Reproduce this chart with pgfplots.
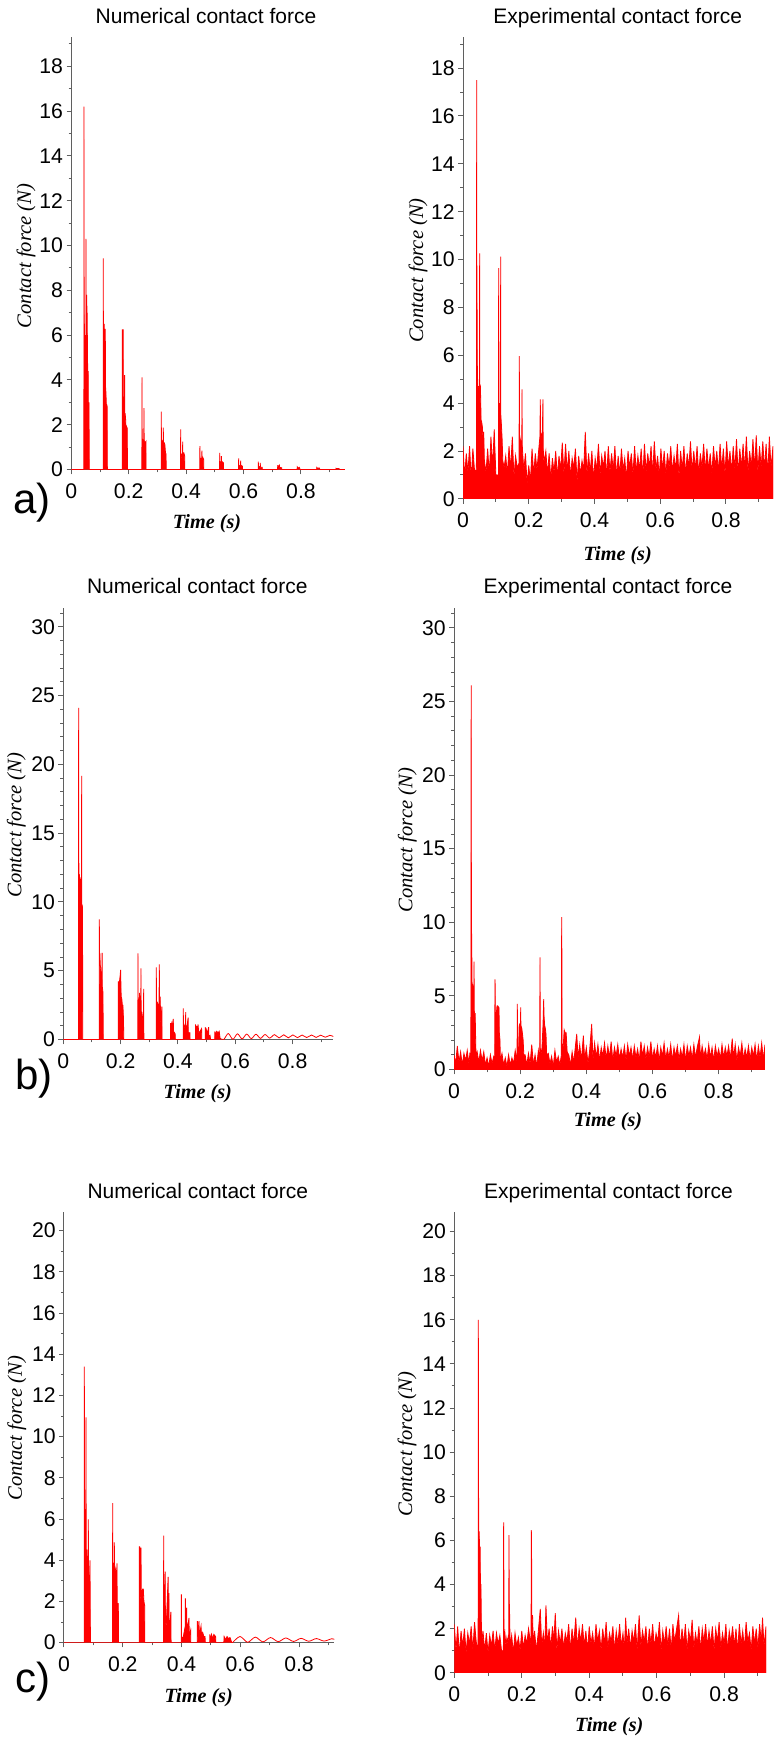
\documentclass[border=0pt]{standalone}
\usepackage{fontspec}
\setmainfont{Liberation Sans}
\newfontfamily\timesfont{Liberation Serif}
\usepackage{pgfplots}
\pgfplotsset{compat=1.18}
\definecolor{axgray}{RGB}{95,95,95}
\pgfplotsset{
 cf/.style={
  scale only axis, anchor=south west,
  axis lines*=left,
  axis line style={axgray, line width=0.5pt},
  tick style={axgray, line width=0.5pt},
  tick align=outside,
  major tick length=2.4pt, minor tick length=1.4pt,
  xmin=0, ymin=0,
  xtick={0,0.2,0.4,0.6,0.8},
  minor xtick={0.1,0.3,0.5,0.7,0.9},
  tick label style={font=\fontsize{10.6}{12}\selectfont, black, /pgf/number format/assume math mode=true},
  xticklabel style={yshift=-1.2pt, /pgf/number format/fixed, /pgf/number format/precision=1},
  yticklabel style={xshift=1.8pt, /pgf/number format/fixed},
 },
 spk/.style={red, line width=0.4pt, fill=red},
}
\newcommand{\ttl}{\fontsize{10.5}{12}\selectfont}
\newcommand{\ylab}{\fontsize{10.3}{12}\selectfont\timesfont\itshape Contact force (N)}
\newcommand{\xlab}{\fontsize{10.1}{12}\selectfont\timesfont\bfseries\itshape Time (s)}
\begin{document}
\begin{tikzpicture}
\useasboundingbox (0,0) rectangle (386.5pt,870pt);

% ---------------- a) numerical ----------------
\begin{axis}[cf, at={(35.65pt,635.2pt)}, width=136.8pt, height=216.05pt,
  xmax=0.953, ymax=19.29, ytick={0,2,...,18}, minor ytick={1,3,...,19}]
\addplot[spk] coordinates {
(0,0)
(0.0438,0)(0.0442,16.2)(0.0446,0.5)(0.0450,8.6)(0.0455,0.8)(0.0460,6.5)(0.0465,1.0)(0.0470,6.0)(0.0476,1.2)(0.0482,5.5)(0.0488,1.0)(0.0494,6.0)(0.0500,1.5)(0.0506,5.0)(0.0510,1.0)(0.0512,10.3)(0.0515,6.0)(0.0520,7.8)(0.0525,6.0)(0.0530,7.5)(0.0535,5.8)(0.0540,7.8)(0.0546,6.0)(0.0552,7.0)(0.0558,5.5)(0.0564,6.0)(0.0570,4.0)(0.0578,4.2)(0.0584,2.0)(0.0590,4.4)(0.0596,2.0)(0.0602,3.0)(0.0608,1.5)(0.0617,3.0)(0.0622,1.0)(0.0628,0)
(0.1110,0)(0.1115,9.43)(0.1120,1.0)(0.1130,5.0)(0.1140,1.5)(0.1150,6.5)(0.1160,2.0)(0.1170,5.0)(0.1180,3.0)(0.1185,6.28)(0.1190,3.7)(0.1200,3.6)(0.1210,3.3)(0.1220,2.9)(0.1235,2.9)(0.1250,2.8)(0.1256,0)
(0.1772,0)(0.1777,6.26)(0.1782,1.0)(0.1790,4.0)(0.1800,1.0)(0.1808,6.26)(0.1813,2.0)(0.1825,2.5)(0.1840,2.0)(0.1857,4.22)(0.1862,2.5)(0.1875,2.5)(0.1890,2.3)(0.1900,2.0)(0.1950,1.84)(0.1955,0)
(0.2458,0)(0.2463,4.12)(0.2468,0.5)(0.2480,1.35)(0.2500,1.3)(0.2527,1.3)(0.2532,2.74)(0.2537,1.3)(0.2560,1.25)(0.2580,1.2)(0.2600,1.25)(0.2605,0)
(0.3130,0)(0.3135,2.59)(0.3140,0.5)(0.3160,1.3)(0.3200,1.2)(0.3205,1.87)(0.3210,1.2)(0.3240,1.2)(0.3260,1.1)(0.3280,0.75)(0.3300,0.7)(0.3305,0)
(0.3805,0)(0.3810,1.8)(0.3815,0.4)(0.3850,0.7)(0.3875,0.7)(0.3880,1.25)(0.3885,0.7)(0.3920,0.75)(0.3950,0.6)(0.3955,0)
(0.4475,0)(0.4480,1.05)(0.4485,0.3)(0.4510,0.5)(0.4545,0.5)(0.4550,0.85)(0.4555,0.5)(0.4580,0.55)(0.4610,0.45)(0.4615,0)
(0.5165,0)(0.5170,0.75)(0.5175,0.2)(0.5200,0.35)(0.5222,0.35)(0.5227,0.6)(0.5232,0.35)(0.5260,0.35)(0.5297,0.3)(0.5302,0)
(0.5825,0)(0.5830,0.5)(0.5835,0.15)(0.5895,0.2)(0.5900,0.4)(0.5905,0.2)(0.5960,0.15)(0.5965,0)
(0.6510,0)(0.6514,0.35)(0.6520,0.1)(0.6578,0.15)(0.6583,0.3)(0.6588,0.1)(0.6650,0.1)(0.6655,0)
(0.7185,0)(0.7190,0.2)(0.7200,0.1)(0.7247,0.2)(0.7260,0.1)(0.7328,0.08)(0.7333,0)
(0.7865,0)(0.7870,0.12)(0.7900,0.06)(0.7940,0.1)(0.7960,0.05)(0.7965,0)
(0.8545,0)(0.8550,0.1)(0.8590,0.05)(0.8630,0.08)(0.8650,0.04)(0.8655,0)
(0.9215,0)(0.9220,0.06)(0.9260,0.04)(0.9300,0.05)(0.9340,0.03)(0.9345,0)
(0.953,0)
};
\end{axis}

% ---------------- a) experimental ----------------
\begin{axis}[cf, at={(231.5pt,620.55pt)}, width=155pt, height=230.7pt,
  xmax=0.943, ymax=19.28, ytick={0,2,...,18}, minor ytick={1,3,...,19}]
\addplot[spk] coordinates {
(0.000,2.2)(0.005,0.9)(0.010,1.9)(0.015,1.1)(0.020,2.2)(0.025,0.8)(0.030,2.1)(0.035,1.2)
(0.0405,1.2)(0.0412,2.0)(0.0416,17.5)(0.0419,14.0)(0.0422,8.2)(0.0428,8.2)(0.0434,6.0)(0.0440,4.9)(0.0446,5.0)(0.0452,4.7)(0.0470,4.7)(0.0500,4.5)(0.0507,10.26)(0.0512,4.8)(0.0530,4.7)(0.0550,3.3)(0.0570,3.2)(0.0590,3.0)(0.0610,2.4)(0.0630,2.8)(0.0650,1.6)
(0.070,1.1)(0.075,2.1)(0.080,1.0)(0.085,2.6)(0.090,1.3)(0.095,2.9)(0.100,1.0)
(0.1080,1.0)(0.1085,9.64)(0.1090,6.9)(0.1095,3.0)(0.1110,4.0)(0.1120,3.5)(0.1141,3.0)(0.1146,10.12)(0.1151,3.5)(0.1170,3.05)(0.1190,2.5)(0.1210,1.6)
(0.125,1.3)(0.130,1.8)(0.135,1.0)(0.140,2.2)(0.145,1.2)(0.150,2.6)(0.155,0.9)(0.160,1.8)(0.165,1.3)
(0.1705,1.5)(0.1713,5.97)(0.1718,2.7)(0.1740,2.5)(0.1760,2.4)(0.1790,2.4)(0.1795,4.58)(0.1800,2.3)(0.1820,1.8)
(0.185,1.2)(0.190,1.9)(0.195,0.6)(0.200,1.4)(0.205,0.7)(0.210,2.1)(0.215,1.0)(0.220,1.9)(0.225,1.2)(0.230,2.0)
(0.2340,2.6)(0.2352,4.16)(0.2357,2.6)(0.2380,2.7)(0.2410,2.5)(0.2433,4.16)(0.2438,2.2)(0.2460,1.5)
(0.252,2.0)(0.257,1.0)(0.262,1.9)(0.267,0.8)(0.272,1.7)(0.277,1.1)(0.282,2.0)(0.287,0.9)(0.292,1.8)(0.297,1.2)
(0.302,2.35)(0.307,1.0)(0.312,2.3)(0.317,1.1)(0.322,2.0)(0.327,0.9)(0.332,1.7)(0.337,1.3)(0.342,2.1)(0.347,0.7)
(0.352,1.8)(0.357,1.0)(0.362,1.6)(0.367,1.2)(0.372,2.8)(0.377,1.0)(0.382,1.9)(0.387,1.1)(0.392,2.0)(0.397,0.8)
(0.402,1.7)(0.407,1.2)(0.412,2.3)(0.417,1.0)(0.422,1.8)(0.427,1.3)(0.432,2.0)(0.437,0.9)(0.442,2.2)(0.447,1.1)
(0.452,1.9)(0.457,1.2)(0.462,2.2)(0.467,0.9)(0.472,1.8)(0.477,1.0)(0.482,2.1)(0.487,1.2)(0.492,1.7)(0.497,0.8)
(0.502,2.0)(0.507,1.3)(0.512,1.9)(0.517,1.0)(0.522,2.2)(0.527,1.1)(0.532,1.8)(0.537,1.2)(0.542,2.1)(0.547,0.9)
(0.552,2.3)(0.557,1.1)(0.562,1.9)(0.567,1.3)(0.572,2.2)(0.577,1.0)(0.582,2.4)(0.587,1.2)(0.592,1.8)(0.597,0.9)
(0.602,2.1)(0.607,1.2)(0.612,2.0)(0.617,1.0)(0.622,1.9)(0.627,1.3)(0.632,2.2)(0.637,1.1)(0.642,1.8)(0.647,1.2)
(0.652,2.3)(0.657,0.9)(0.662,2.0)(0.667,1.2)(0.672,2.2)(0.677,1.0)(0.682,1.9)(0.687,1.3)(0.692,2.4)(0.697,1.1)
(0.702,2.0)(0.707,1.2)(0.712,2.2)(0.717,1.0)(0.722,1.9)(0.727,1.3)(0.732,2.3)(0.737,1.1)(0.742,2.1)(0.747,1.2)
(0.752,1.9)(0.757,1.0)(0.762,2.2)(0.767,1.3)(0.772,2.0)(0.777,1.1)(0.782,2.3)(0.787,1.2)(0.792,2.1)(0.797,1.0)
(0.802,2.4)(0.807,1.3)(0.812,2.0)(0.817,1.1)(0.822,2.2)(0.827,1.2)(0.832,2.5)(0.837,1.0)(0.842,2.1)(0.847,1.3)
(0.852,2.3)(0.857,1.2)(0.862,2.6)(0.867,1.1)(0.872,2.0)(0.877,1.3)(0.882,2.5)(0.887,1.2)(0.892,2.65)(0.897,1.1)
(0.902,2.2)(0.907,1.3)(0.912,2.4)(0.917,1.2)(0.922,2.3)(0.927,1.0)(0.932,2.6)(0.937,1.3)(0.943,2.2)
} \closedcycle;
\end{axis}

% ---------------- b) numerical ----------------
\begin{axis}[cf, at={(31.65pt,350.2pt)}, width=135pt, height=215.7pt,
  xmax=0.942, ymax=31.35, ytick={0,5,...,30}, minor ytick={0,1,...,31}]
\addplot[spk] coordinates {
(0,0)
(0.0530,0)(0.0536,24.1)(0.0540,12.8)(0.0545,12.8)(0.0550,11.5)(0.0560,12.0)(0.0570,11.5)(0.0580,11.8)(0.0590,11.4)(0.0600,11.5)(0.0610,11.2)(0.0620,11.0)(0.0630,10.5)(0.0636,10.0)(0.0641,19.16)(0.0646,9.8)(0.0660,9.78)(0.0672,9.5)(0.0676,0)
(0.1252,0)(0.1257,8.74)(0.1262,5.4)(0.1275,6.27)(0.1290,5.4)(0.1305,5.2)(0.1320,4.5)(0.1350,5.0)(0.1355,6.3)(0.1360,3.85)(0.1380,3.5)(0.1390,1.7)(0.1395,0)
(0.1915,0)(0.1920,4.21)(0.1935,4.21)(0.1950,1.5)(0.1965,4.3)(0.1980,4.57)(0.2000,5.06)(0.2010,4.0)(0.2020,3.1)(0.2040,3.0)(0.2060,2.5)(0.2080,2.5)(0.2100,1.5)(0.2110,0)
(0.2600,0)(0.2606,6.27)(0.2612,1.0)(0.2630,1.5)(0.2660,3.4)(0.2680,1.5)(0.2704,1.8)(0.2710,5.18)(0.2716,2.0)(0.2740,2.0)(0.2770,1.5)(0.2798,1.0)(0.2804,3.68)(0.2810,0.5)(0.2815,0)
(0.3240,0)(0.3245,5.25)(0.3250,2.6)(0.3280,2.7)(0.3310,2.5)(0.3340,2.6)(0.3350,5.47)(0.3356,3.1)(0.3380,3.1)(0.3400,1.0)(0.3440,2.4)(0.3446,0)
(0.3740,0)(0.3745,1.2)(0.3760,0.6)(0.3780,1.1)(0.3800,0.8)(0.3815,1.2)(0.3837,1.5)(0.3845,0.6)(0.3880,0.5)(0.3905,0.4)(0.3910,0)
(0.4182,0)(0.4187,2.27)(0.4192,0.5)(0.4230,1.0)(0.4265,1.2)(0.4270,2.0)(0.4275,1.0)(0.4320,1.0)(0.4355,1.6)(0.4362,0.5)(0.4417,0.5)(0.4422,0)
(0.4610,0)(0.4615,1.1)(0.4625,0.3)(0.4650,1.0)(0.4680,0.5)(0.4700,1.1)(0.4730,0.4)(0.4770,0.6)(0.4825,0.8)(0.4830,0)
(0.4950,0)(0.4955,0.9)(0.4970,0.3)(0.5000,0.7)(0.5030,0.4)(0.5070,0.9)(0.5080,0.2)(0.5120,0.3)(0.5140,0)
(0.5280,0)(0.5290,0.6)(0.5310,0.3)(0.5350,0.6)(0.5400,0.5)(0.5440,0.6)(0.5470,0.1)(0.5470,0)
};
\addplot[red, line width=0.4pt, smooth] coordinates {
(0.5470,0.10)(0.5594,0.00)(0.5755,0.44)(0.5916,0.02)(0.6077,0.42)(0.6238,0.05)(0.6400,0.40)(0.6560,0.07)(0.6720,0.39)(0.6880,0.09)(0.7040,0.37)(0.7200,0.11)(0.7370,0.36)(0.7530,0.12)(0.7690,0.35)(0.7850,0.13)(0.8010,0.34)(0.8170,0.14)(0.8330,0.33)(0.8490,0.15)(0.8660,0.33)(0.8820,0.16)(0.8980,0.32)(0.9140,0.17)(0.9300,0.31)(0.9420,0.22)
};
\end{axis}

% ---------------- b) experimental ----------------
\begin{axis}[cf, at={(227pt,335.2pt)}, width=155.5pt, height=230.7pt,
  xmax=0.94, ymax=31.34, ytick={0,5,...,30}, minor ytick={0,1,...,31}]
\addplot[spk] coordinates {
(0.000,1.0)(0.005,0.4)(0.010,1.6)(0.015,0.5)(0.020,1.2)(0.025,0.3)(0.030,1.1)(0.035,0.6)(0.040,1.3)(0.045,0.4)(0.048,1.1)
(0.0510,1.0)(0.0515,19.5)(0.0520,26.1)(0.0526,9.3)(0.0535,9.2)(0.0545,5.6)(0.0555,5.8)(0.0570,5.6)(0.0590,5.5)(0.0600,5.2)(0.0605,7.33)(0.0612,4.0)(0.0625,3.8)(0.0640,3.8)(0.0655,2.0)(0.0665,0.9)
(0.070,1.2)(0.075,0.5)(0.080,1.3)(0.085,0.6)(0.090,1.2)(0.095,0.3)(0.100,0.8)(0.105,0.2)(0.110,1.0)(0.115,0.4)(0.120,0.9)
(0.1230,0.8)(0.1239,6.13)(0.1245,5.6)(0.1255,2.0)(0.1270,3.5)(0.1300,4.34)(0.1310,3.0)(0.1330,4.3)(0.1360,4.2)(0.1370,2.5)(0.1390,2.0)(0.1400,0.6)
(0.145,1.1)(0.150,0.3)(0.155,0.8)(0.160,0.2)(0.165,1.0)(0.170,0.3)(0.175,0.8)(0.180,0.4)(0.185,1.3)
(0.1905,0.5)(0.1914,4.46)(0.1920,1.0)(0.1950,1.2)(0.1970,3.0)(0.1990,3.1)(0.2010,3.0)(0.2016,4.23)(0.2022,3.0)(0.2050,2.8)(0.2070,2.4)(0.2090,2.0)(0.2110,1.0)
(0.215,1.0)(0.220,0.3)(0.225,1.1)(0.230,0.4)(0.235,1.7)(0.240,0.3)(0.245,1.0)(0.250,0.2)(0.255,1.3)
(0.2590,0.6)(0.2600,7.63)(0.2606,1.5)(0.2630,1.0)(0.2660,1.5)(0.2690,3.0)(0.2711,4.78)(0.2720,3.7)(0.2740,3.0)(0.2760,2.8)(0.2781,2.4)(0.2800,1.0)
(0.285,1.1)(0.290,0.4)(0.295,0.9)(0.300,0.2)(0.305,1.3)(0.310,0.5)(0.315,0.9)(0.320,0.3)
(0.3245,1.0)(0.3255,10.35)(0.3262,7.2)(0.3268,1.0)(0.3300,1.5)(0.3330,2.7)(0.3360,2.5)(0.3390,2.5)(0.3420,1.2)
(0.347,1.0)(0.352,0.3)(0.357,1.2)(0.362,0.5)(0.367,1.6)(0.371,2.42)(0.375,0.8)(0.380,1.7)(0.385,0.6)(0.391,2.3)(0.395,0.7)
(0.400,1.5)(0.405,0.4)(0.410,1.3)(0.4162,3.1)(0.420,0.6)(0.425,1.8)(0.430,0.8)(0.435,1.7)(0.440,0.6)(0.445,1.5)
(0.450,0.9)(0.455,1.8)(0.460,0.7)(0.465,1.6)(0.470,0.8)(0.475,1.9)(0.480,0.6)(0.485,1.5)(0.490,0.9)(0.495,1.7)
(0.500,0.7)(0.505,1.4)(0.510,0.8)(0.515,1.6)(0.520,0.6)(0.525,1.7)(0.530,0.9)(0.535,1.5)(0.540,0.7)(0.545,1.6)
(0.550,0.8)(0.555,1.4)(0.560,0.6)(0.565,1.9)(0.570,0.9)(0.575,1.6)(0.580,0.7)(0.585,1.5)(0.590,0.8)(0.595,1.9)
(0.600,0.7)(0.605,1.4)(0.610,0.8)(0.615,1.6)(0.620,0.6)(0.625,1.5)(0.630,0.9)(0.635,1.8)(0.640,0.7)(0.645,1.4)
(0.650,0.8)(0.655,1.7)(0.660,0.6)(0.665,1.5)(0.670,0.9)(0.675,1.6)(0.680,0.7)(0.685,1.4)(0.690,0.8)(0.695,1.7)
(0.700,0.6)(0.705,1.6)(0.710,0.9)(0.715,1.5)(0.720,0.7)(0.725,1.7)(0.730,0.8)(0.735,1.5)(0.742,2.2)(0.745,0.7)
(0.750,1.6)(0.755,0.9)(0.760,1.4)(0.765,0.7)(0.770,1.7)(0.775,0.8)(0.780,1.5)(0.785,0.6)(0.790,1.6)(0.795,0.9)
(0.800,1.4)(0.805,0.7)(0.810,1.7)(0.815,0.8)(0.820,1.5)(0.825,0.9)(0.830,1.6)(0.835,0.7)(0.841,2.1)(0.845,0.8)
(0.850,1.7)(0.855,0.6)(0.860,1.5)(0.865,0.9)(0.870,1.8)(0.875,0.7)(0.880,1.4)(0.885,0.8)(0.890,1.6)(0.895,0.7)
(0.900,1.5)(0.905,0.9)(0.910,1.7)(0.915,0.6)(0.920,1.6)(0.925,0.8)(0.930,1.8)(0.935,0.7)(0.940,1.7)
} \closedcycle;
\end{axis}

% ---------------- c) numerical ----------------
\begin{axis}[cf, at={(32pt,48.65pt)}, width=135.15pt, height=215.5pt,
  xmax=0.92, ymax=20.92, ytick={0,2,...,20}, minor ytick={1,3,...,19}]
\addplot[spk] coordinates {
(0,0)
(0.0687,0)(0.0692,13.4)(0.0697,6.5)(0.0710,6.44)(0.0725,6.0)(0.0744,6.0)(0.0749,10.94)(0.0754,4.5)(0.0780,4.5)(0.0800,3.6)(0.0823,3.6)(0.0828,5.99)(0.0833,2.7)(0.0860,2.7)(0.0880,3.6)(0.0885,4.0)(0.0890,2.5)(0.0900,0)
(0.1652,0)(0.1657,6.77)(0.1662,3.8)(0.1690,3.85)(0.1708,3.8)(0.1713,4.87)(0.1718,3.8)(0.1760,3.5)(0.1790,3.0)(0.1804,3.85)(0.1810,1.9)(0.1849,1.9)(0.1854,0)
(0.2560,0)(0.2565,4.66)(0.2580,4.66)(0.2590,1.0)(0.2616,4.6)(0.2621,4.6)(0.2630,2.4)(0.2660,2.5)(0.2676,2.6)(0.2700,2.6)(0.2720,2.0)(0.2746,1.8)(0.2752,0)
(0.3388,0)(0.3393,5.2)(0.3398,2.0)(0.3420,2.0)(0.3445,3.45)(0.3452,1.0)(0.3480,0.8)(0.3545,3.2)(0.3552,1.0)(0.3573,2.4)(0.3580,0.3)(0.3637,1.5)(0.3642,0.2)(0.3650,0)
(0.3990,0)(0.3995,2.35)(0.4000,0.3)(0.4050,0.2)(0.4126,0.8)(0.4131,2.15)(0.4140,1.0)(0.4176,1.7)(0.4185,0.5)(0.4255,1.2)(0.4262,0.3)(0.4310,0.6)(0.4315,0)
(0.4535,0)(0.4540,1.05)(0.4550,0.3)(0.4595,1.05)(0.4605,0.3)(0.4640,0.6)(0.4664,0.8)(0.4680,0.4)(0.4720,0.5)(0.4760,0.3)(0.4800,0.3)(0.4810,0)
(0.4960,0)(0.4966,0.4)(0.4990,0.1)(0.5020,0.4)(0.5060,0.2)(0.5100,0.4)(0.5160,0.3)(0.5170,0)
(0.5440,0)(0.5450,0.3)(0.5500,0.15)(0.5550,0.3)(0.5600,0.2)(0.5650,0.25)(0.5700,0.05)(0.5700,0)
};
\addplot[red, line width=0.4pt, smooth] coordinates {
(0.5700,0.05)(0.5730,0.00)(0.5990,0.30)(0.6250,0.02)(0.6510,0.27)(0.6770,0.04)(0.7030,0.25)(0.7290,0.05)(0.7550,0.23)(0.7810,0.06)(0.8070,0.21)(0.8330,0.07)(0.8590,0.20)(0.8850,0.08)(0.9110,0.19)(0.9200,0.16)
};
\end{axis}

% ---------------- c) experimental ----------------
\begin{axis}[cf, at={(227.15pt,33.6pt)}, width=155.85pt, height=230.55pt,
  xmax=0.924, ymax=20.9, ytick={0,2,...,20}, minor ytick={1,3,...,19}]
\addplot[spk] coordinates {
(0.000,2.2)(0.005,1.0)(0.010,2.1)(0.015,0.8)(0.020,1.9)(0.025,1.2)(0.030,2.0)(0.035,0.9)(0.040,1.8)(0.045,1.3)(0.050,2.1)(0.055,1.0)(0.060,2.3)(0.065,1.4)
(0.0700,1.0)(0.0707,2.5)(0.0712,16.0)(0.0717,10.6)(0.0722,6.4)(0.0735,6.4)(0.0750,5.7)(0.0765,5.7)(0.0775,4.0)(0.0790,4.0)(0.0800,2.5)(0.0810,1.3)
(0.085,1.9)(0.090,1.0)(0.095,1.8)(0.100,0.9)(0.105,1.7)(0.110,1.2)(0.115,1.9)(0.120,1.0)(0.125,1.8)(0.130,1.3)(0.135,1.7)(0.140,1.0)
(0.1455,1.0)(0.1463,6.82)(0.1468,5.0)(0.1475,1.5)(0.1500,1.8)(0.1530,1.2)(0.1560,1.6)(0.1590,1.3)(0.1615,1.8)(0.1621,6.24)(0.1627,3.4)(0.1640,2.6)(0.1655,1.2)
(0.170,1.7)(0.175,0.9)(0.180,1.8)(0.185,1.2)(0.190,1.6)(0.195,1.0)(0.200,1.9)(0.205,1.1)(0.210,1.7)(0.215,1.3)(0.220,2.0)
(0.2275,1.2)(0.2283,6.47)(0.2290,5.87)(0.2296,2.6)(0.2320,2.6)(0.2340,1.3)
(0.238,1.9)(0.243,1.0)(0.248,1.7)(0.2549,2.9)(0.259,1.2)(0.264,1.8)(0.268,1.0)(0.2717,3.05)(0.276,1.3)(0.281,2.0)(0.286,1.1)(0.291,2.1)(0.295,1.4)(0.2993,2.7)
(0.304,1.0)(0.309,1.9)(0.314,1.3)(0.319,2.0)(0.324,1.1)(0.329,1.8)(0.334,1.4)(0.339,2.2)(0.344,1.0)(0.349,2.0)(0.354,1.3)(0.360,2.5)(0.365,1.1)(0.370,2.0)(0.375,1.4)
(0.380,2.2)(0.385,1.2)(0.390,1.9)(0.395,1.0)(0.400,2.1)(0.405,1.3)(0.410,1.8)(0.415,1.1)(0.420,2.2)(0.425,1.4)(0.430,1.9)(0.435,1.0)(0.440,2.0)(0.445,1.3)(0.450,2.3)
(0.455,1.1)(0.460,1.8)(0.465,1.4)(0.470,2.1)(0.475,1.0)(0.480,1.9)(0.485,1.3)(0.490,2.2)(0.495,1.2)(0.500,1.8)(0.504,1.0)(0.508,2.5)(0.512,1.3)(0.517,2.0)(0.522,1.1)
(0.527,1.9)(0.532,1.4)(0.537,2.2)(0.542,1.0)(0.548,2.6)(0.553,1.2)(0.558,1.9)(0.563,1.4)(0.568,2.1)(0.573,1.0)(0.578,2.0)(0.583,1.3)(0.588,2.2)(0.593,1.1)(0.598,1.8)
(0.603,1.4)(0.608,2.3)(0.613,1.0)(0.618,1.9)(0.623,1.3)(0.628,2.1)(0.633,1.2)(0.638,2.0)(0.643,1.0)(0.648,2.2)(0.653,1.4)(0.658,1.9)(0.6649,2.6)(0.670,1.1)(0.675,2.0)
(0.680,1.3)(0.685,2.2)(0.690,1.0)(0.695,1.9)(0.700,1.4)(0.705,2.4)(0.710,1.1)(0.715,1.8)(0.720,1.3)(0.725,2.1)(0.730,1.0)(0.735,2.0)(0.740,1.4)(0.745,2.2)(0.750,1.2)
(0.755,1.9)(0.760,1.3)(0.765,2.1)(0.770,1.0)(0.775,2.0)(0.780,1.4)(0.785,2.3)(0.790,1.1)(0.795,1.8)(0.800,1.3)(0.805,2.2)(0.810,1.0)(0.815,1.9)(0.820,1.4)(0.825,2.1)
(0.830,1.2)(0.835,2.0)(0.840,1.0)(0.845,2.2)(0.850,1.3)(0.855,1.9)(0.860,1.1)(0.865,2.3)(0.870,1.4)(0.875,1.8)(0.880,1.0)(0.885,2.1)(0.890,1.3)(0.895,2.0)(0.900,1.1)
(0.905,2.2)(0.910,1.4)(0.9137,2.5)(0.918,1.2)(0.924,2.1)
} \closedcycle;
\end{axis}

% ---------------- texts ----------------
\node[anchor=base, font=\ttl] at (103pt,858.4pt) {Numerical contact force};
\node[anchor=base, font=\ttl] at (308.85pt,858.4pt) {Experimental contact force};
\node[anchor=base, font=\ttl] at (98.65pt,573.05pt) {Numerical contact force};
\node[anchor=base, font=\ttl] at (304pt,573.05pt) {Experimental contact force};
\node[anchor=base, font=\ttl] at (98.9pt,270.85pt) {Numerical contact force};
\node[anchor=base, font=\ttl] at (304.25pt,270.85pt) {Experimental contact force};

\node[rotate=90, anchor=center] at (13pt,742pt) {\ylab};
\node[rotate=90, anchor=center] at (209pt,734.75pt) {\ylab};
\node[rotate=90, anchor=center] at (8.1pt,457.4pt) {\ylab};
\node[rotate=90, anchor=center] at (203.65pt,449.8pt) {\ylab};
\node[rotate=90, anchor=center] at (8.35pt,155.8pt) {\ylab};
\node[rotate=90, anchor=center] at (203.5pt,147.9pt) {\ylab};

\node[anchor=center] at (103.5pt,608pt) {\xlab};
\node[anchor=center] at (308.85pt,592pt) {\xlab};
\node[anchor=center] at (98.9pt,323pt) {\xlab};
\node[anchor=center] at (304pt,309pt) {\xlab};
\node[anchor=center] at (99.35pt,21pt) {\xlab};
\node[anchor=center] at (304.65pt,6.5pt) {\xlab};

\node[anchor=base, font=\fontsize{21}{24}\selectfont] at (15.85pt,613pt) {a)};
\node[anchor=base, font=\fontsize{21}{24}\selectfont] at (17pt,325pt) {b)};
\node[anchor=base, font=\fontsize{21}{24}\selectfont] at (16.5pt,23.5pt) {c)};
\end{tikzpicture}
\end{document}
